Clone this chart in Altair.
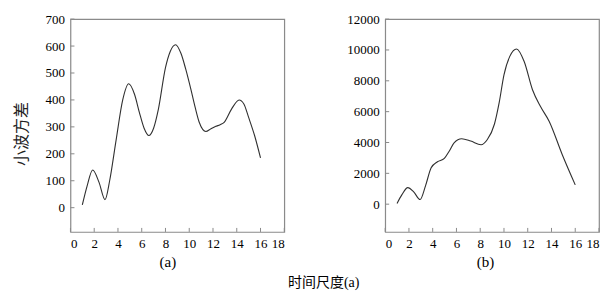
import altair as alt
import pandas as pd

# Panel (a) wavelet variance curve
xa = [1.0, 1.4, 1.87, 2.4, 2.91, 3.3, 3.84, 4.4, 4.9, 5.4, 5.8, 6.2, 6.6, 7.0, 7.4, 8.0, 8.4, 8.85,
      9.3, 9.7, 10.14, 10.5, 10.84, 11.4, 11.8, 12.24, 12.6, 12.94, 13.56, 14.2, 14.6, 15.0, 15.5, 16.0]
ya = [10, 80, 140, 95, 30, 100, 250, 400, 460, 420, 354, 295, 268, 295, 365, 520, 580, 605,
      573, 515, 439, 372, 317, 283, 292, 302, 308, 317, 366, 400, 385, 335, 268, 185]

# Panel (b) wavelet variance curve
xb = [1.0, 1.4, 1.9, 2.4, 2.94, 3.4, 3.87, 4.4, 4.98, 5.4, 5.8, 6.44, 7.2, 8.07, 8.6, 9.2, 9.6,
      10.0, 10.5, 11.06, 11.7, 12.4, 13.1, 13.8, 14.9, 16.0]
yb = [50, 600, 1075, 800, 300, 1200, 2365, 2750, 2970, 3450, 3980, 4240, 4090, 3850, 4190, 5200, 6600,
      8390, 9600, 10065, 9250, 7420, 6300, 5380, 3225, 1250]

x_ticks = [0, 2, 4, 6, 8, 10, 12, 14, 16, 18]
ya_ticks = [0, 100, 200, 300, 400, 500, 600, 700]
yb_ticks = [0, 2000, 4000, 6000, 8000, 10000, 12000]

W, H = 214, 213
SERIF = "Liberation Serif"
MIXED = "Liberation Serif, Noto Sans CJK SC"
GRAY = "#8a8a8a"


def panel(xs, ys, yticks, ydom, xtitle, ytitle, title_x):
    df = pd.DataFrame({"x": xs, "y": ys})
    xt = pd.DataFrame({"x": x_ticks})
    yt = pd.DataFrame({"y": yticks})

    xaxis = alt.Axis(values=x_ticks, title=xtitle, grid=False, domain=False, tickSize=0, format="d",
                     labelPadding=6, titlePadding=4, labelFont=SERIF, labelFontSize=13,
                     labelColor="black", titleFont=SERIF, titleFontSize=15,
                     titleFontWeight="normal", titleColor="black", titleX=title_x)
    yargs = dict(values=yticks, grid=False, domain=False, tickSize=0, format="d",
                 labelPadding=6, labelFont=SERIF, labelFontSize=13, labelColor="black")
    if ytitle:
        yaxis = alt.Axis(title=ytitle, titlePadding=15, titleFont="Noto Sans CJK SC", titleFontSize=16,
                         titleFontWeight="normal", titleColor="#222222", titleY=H / 2 + 8, **yargs)
    else:
        yaxis = alt.Axis(title=None, **yargs)

    xenc = alt.X("x:Q", scale=alt.Scale(domain=[0, 18], nice=False), axis=xaxis)
    yenc = alt.Y("y:Q", scale=alt.Scale(domain=ydom, nice=False, zero=False), axis=yaxis)

    line = alt.Chart(df).mark_line(interpolate="monotone", color="#303030", strokeWidth=1.1).encode(
        x=xenc, y=yenc)
    xtick = alt.Chart(xt).mark_rule(color=GRAY, strokeWidth=1).encode(
        x=xenc, y=alt.value(H), y2=alt.value(H - 4))
    ytick = alt.Chart(yt).mark_rule(color=GRAY, strokeWidth=1).encode(
        y=yenc, x=alt.value(0), x2=alt.value(4))
    return alt.layer(xtick, ytick, line).properties(width=W, height=H)


pa = panel(xa, ya, ya_ticks, [-90, 700], "(a)", "小波方差", 97)
pb = panel(xb, yb, yb_ticks, [-1800, 12000], "(b)", None, 100)

chart = alt.hconcat(pa, pb, spacing=59).properties(
    padding={"left": 4.5, "top": 4, "right": 5, "bottom": 2},
    title=alt.TitleParams("时间尺度(a)", orient="bottom", anchor="middle", font=MIXED,
                          fontSize=14, fontWeight="normal", color="black", offset=6, dx=17),
).configure_view(stroke=GRAY, strokeWidth=1.2)

chart.save("out.html", embed_options={"renderer": "svg", "actions": False})
